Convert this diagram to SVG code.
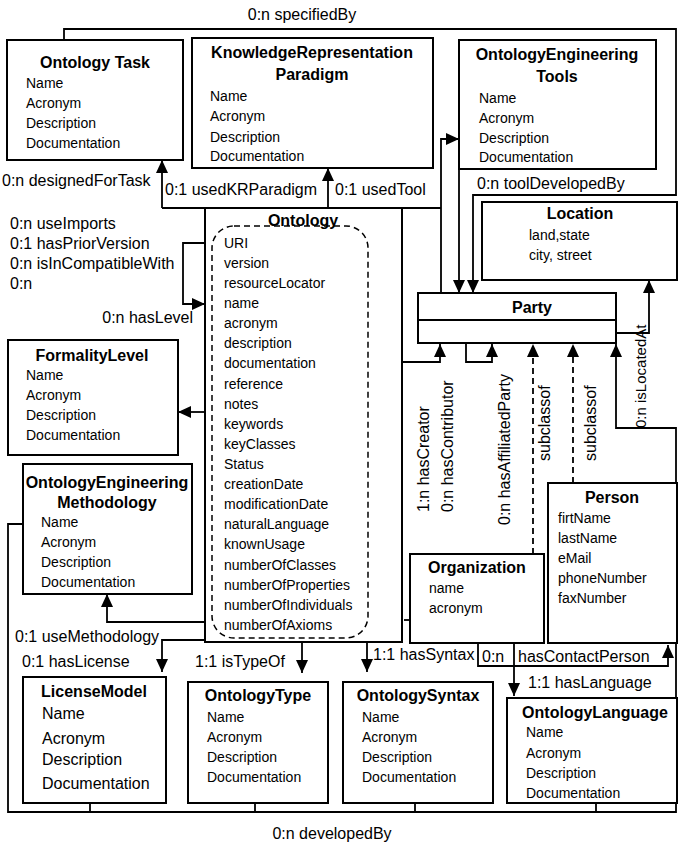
<svg xmlns="http://www.w3.org/2000/svg" width="678" height="844" viewBox="0 0 678 844">
<style>
text{font-family:"Liberation Sans",Arial,sans-serif;fill:#000}
.t{font-size:16px;font-weight:bold;text-anchor:middle}
.a{font-size:14px}
.a16{font-size:16px}
.l{font-size:16px}
.box{fill:#fff;stroke:#000;stroke-width:2}
.c{fill:none;stroke:#000;stroke-width:1.8}
.d{stroke-dasharray:6,4}
</style>
<defs>
<marker id="ah" viewBox="0 0 13 12" refX="13" refY="6" markerWidth="13" markerHeight="12" markerUnits="userSpaceOnUse" orient="auto"><path d="M0,0 L13,6 L0,12 z" fill="#000"/></marker>
</defs>
<rect width="678" height="844" fill="#fff"/>
<g id="connectors">
<path class="c" d="M64,40 V29 H676 V195 H473 V293" marker-end="url(#ah)"/>
<path class="c" d="M162,208 H441"/>
<path class="c" d="M162,208 V160" marker-end="url(#ah)"/>
<path class="c" d="M328,208 V168" marker-end="url(#ah)"/>
<path class="c" d="M441,292 V139 H459" marker-end="url(#ah)"/>
<path class="c" d="M459,169 V293" marker-end="url(#ah)"/>
<path class="c" d="M616,333 H649 V280" marker-end="url(#ah)"/>
<path class="c" d="M23,524 H8 V812 H676 V428 H616 V344" marker-end="url(#ah)"/>
<path class="c" d="M90,803 V812 M255,803 V812 M415,803 V812 M596,803 V812"/>
<path class="c" d="M205,243 H183 V304 H205" marker-end="url(#ah)"/>
<path class="c" d="M205,412 H178" marker-end="url(#ah)"/>
<path class="c" d="M205,622 H107 V594" marker-end="url(#ah)"/>
<path class="c" d="M205,640 H162 V672" marker-end="url(#ah)"/>
<path class="c" d="M302,642 V673" marker-end="url(#ah)"/>
<path class="c" d="M367,642 V672" marker-end="url(#ah)"/>
<path class="c" d="M402,362 H440 V344" marker-end="url(#ah)"/>
<path class="c" d="M466,344 V362 H492 V344" marker-end="url(#ah)"/>
<path class="c d" d="M533,554 V344" marker-end="url(#ah)"/>
<path class="c d" d="M573,483 V344" marker-end="url(#ah)"/>
<path class="c" d="M478,643 V666 H668 V645" marker-end="url(#ah)"/>
<path class="c" d="M514,643 V696" marker-end="url(#ah)"/>
<path class="c" d="M404,620 H410"/>
<text class="l" x="302" y="20" text-anchor="middle">0:n specifiedBy</text>
<text class="l" x="2" y="186">0:n designedForTask</text>
<text class="l" x="165" y="195">0:1 usedKRParadigm</text>
<text class="l" x="335" y="195">0:1 usedTool</text>
<text class="l" x="477" y="189">0:n toolDevelopedBy</text>
<text class="l" x="10" y="229">0:n useImports</text>
<text class="l" x="10" y="249">0:1 hasPriorVersion</text>
<text class="l" x="10" y="269">0:n isInCompatibleWith</text>
<text class="l" x="10" y="289">0:n</text>
<text class="l" x="193" y="323" text-anchor="end">0:n hasLevel</text>
<text class="l" x="15" y="642">0:1 useMethodology</text>
<text class="l" x="22" y="667">0:1 hasLicense</text>
<text class="l" x="195" y="667">1:1 isTypeOf</text>
<text class="l" x="373" y="660">1:1 hasSyntax</text>
<text class="l" x="482" y="662">0:n</text>
<text class="l" x="518" y="662">hasContactPerson</text>
<text class="l" x="528" y="688">1:1 hasLanguage</text>
<text class="l" x="332" y="839" text-anchor="middle">0:n developedBy</text>
<text class="l" transform="translate(429,512) rotate(-90)">1:n hasCreator</text>
<text class="l" transform="translate(453,512) rotate(-90)">0:n hasContributor</text>
<text class="l" transform="translate(510,525) rotate(-90)">0:n hasAffiliatedParty</text>
<text class="l" transform="translate(550,461) rotate(-90)">subclassof</text>
<text class="l" transform="translate(596,461) rotate(-90)">subclassof</text>
<text class="l" style="font-size:15px" transform="translate(646,428) rotate(-90)">0:n isLocatedAt</text>
</g>
<g id="ontology-task">
<rect class="box" x="7" y="40" width="176" height="120"/>
<text class="t" x="95" y="68">Ontology Task</text>
<text class="a" x="26" y="88">Name</text>
<text class="a" x="26" y="108">Acronym</text>
<text class="a" x="26" y="128">Description</text>
<text class="a" x="26" y="148">Documentation</text>
</g>
<g id="kr-paradigm">
<rect class="box" x="192" y="38" width="241" height="130"/>
<text class="t" x="312" y="58">KnowledgeRepresentation</text>
<text class="t" x="312" y="80">Paradigm</text>
<text class="a" x="210" y="101">Name</text>
<text class="a" x="210" y="121">Acronym</text>
<text class="a" x="210" y="142">Description</text>
<text class="a" x="210" y="161">Documentation</text>
</g>
<g id="oe-tools">
<rect class="box" x="459" y="40" width="197" height="129"/>
<text class="t" x="557" y="60">OntologyEngineering</text>
<text class="t" x="557" y="82">Tools</text>
<text class="a" x="479" y="103">Name</text>
<text class="a" x="479" y="123">Acronym</text>
<text class="a" x="479" y="143">Description</text>
<text class="a" x="479" y="162">Documentation</text>
</g>
<g id="location">
<rect class="box" x="482" y="202" width="195" height="78"/>
<text class="t" x="580" y="219">Location</text>
<text class="a" x="529" y="240">land,state</text>
<text class="a" x="529" y="260">city, street</text>
</g>
<g id="party">
<rect class="box" x="418" y="293" width="198" height="50"/>
<line x1="418" y1="320" x2="616" y2="320" stroke="#000" stroke-width="2"/>
<text class="t" x="532" y="313">Party</text>
</g>
<g id="ontology">
<rect class="box" x="205" y="208" width="197" height="434"/>
<rect x="212" y="226" width="156" height="412" rx="22" fill="none" stroke="#000" stroke-width="1.5" stroke-dasharray="6,4"/>
<text class="t" x="303" y="226">Ontology</text>
<text class="a" x="224" y="248">URI</text>
<text class="a" x="224" y="268">version</text>
<text class="a" x="224" y="288">resourceLocator</text>
<text class="a" x="224" y="308">name</text>
<text class="a" x="224" y="328">acronym</text>
<text class="a" x="224" y="348">description</text>
<text class="a" x="224" y="368">documentation</text>
<text class="a" x="224" y="389">reference</text>
<text class="a" x="224" y="409">notes</text>
<text class="a" x="224" y="429">keywords</text>
<text class="a" x="224" y="449">keyClasses</text>
<text class="a" x="224" y="469">Status</text>
<text class="a" x="224" y="489">creationDate</text>
<text class="a" x="224" y="509">modificationDate</text>
<text class="a" x="224" y="529">naturalLanguage</text>
<text class="a" x="224" y="549">knownUsage</text>
<text class="a" x="224" y="570">numberOfClasses</text>
<text class="a" x="224" y="590">numberOfProperties</text>
<text class="a" x="224" y="610">numberOfIndividuals</text>
<text class="a" x="224" y="630">numberOfAxioms</text>
</g>
<g id="formality-level">
<rect class="box" x="8" y="340" width="170" height="115"/>
<text class="t" x="92" y="361">FormalityLevel</text>
<text class="a" x="26" y="380">Name</text>
<text class="a" x="26" y="400">Acronym</text>
<text class="a" x="26" y="420">Description</text>
<text class="a" x="26" y="440">Documentation</text>
</g>
<g id="oe-methodology">
<rect class="box" x="23" y="464" width="169" height="130"/>
<text class="t" x="107" y="488">OntologyEngineering</text>
<text class="t" x="107" y="508">Methodology</text>
<text class="a" x="41" y="527">Name</text>
<text class="a" x="41" y="547">Acronym</text>
<text class="a" x="41" y="567">Description</text>
<text class="a" x="41" y="587">Documentation</text>
</g>
<g id="organization">
<rect class="box" x="410" y="554" width="134" height="89"/>
<text class="t" x="477" y="573">Organization</text>
<text class="a" x="429" y="593">name</text>
<text class="a" x="429" y="613">acronym</text>
</g>
<g id="person">
<rect class="box" x="548" y="483" width="129" height="160"/>
<text class="t" x="612" y="503">Person</text>
<text class="a" x="558" y="523">firtName</text>
<text class="a" x="558" y="543">lastName</text>
<text class="a" x="558" y="563">eMail</text>
<text class="a" x="558" y="583">phoneNumber</text>
<text class="a" x="558" y="603">faxNumber</text>
</g>
<g id="license-model">
<rect class="box" x="23" y="677" width="143" height="126"/>
<text class="t" x="94" y="697">LicenseModel</text>
<text class="a16" x="42" y="719">Name</text>
<text class="a16" x="42" y="744">Acronym</text>
<text class="a16" x="42" y="765">Description</text>
<text class="a16" x="42" y="789">Documentation</text>
</g>
<g id="ontology-type">
<rect class="box" x="188" y="682" width="140" height="121"/>
<text class="t" x="258" y="701">OntologyType</text>
<text class="a" x="207" y="722">Name</text>
<text class="a" x="207" y="742">Acronym</text>
<text class="a" x="207" y="762">Description</text>
<text class="a" x="207" y="782">Documentation</text>
</g>
<g id="ontology-syntax">
<rect class="box" x="343" y="682" width="150" height="121"/>
<text class="t" x="418" y="701">OntologySyntax</text>
<text class="a" x="362" y="722">Name</text>
<text class="a" x="362" y="742">Acronym</text>
<text class="a" x="362" y="762">Description</text>
<text class="a" x="362" y="782">Documentation</text>
</g>
<g id="ontology-language">
<rect class="box" x="507" y="698" width="170" height="105"/>
<text class="t" x="595" y="718">OntologyLanguage</text>
<text class="a" x="526" y="737">Name</text>
<text class="a" x="526" y="758">Acronym</text>
<text class="a" x="526" y="778">Description</text>
<text class="a" x="526" y="798">Documentation</text>
</g>
</svg>
